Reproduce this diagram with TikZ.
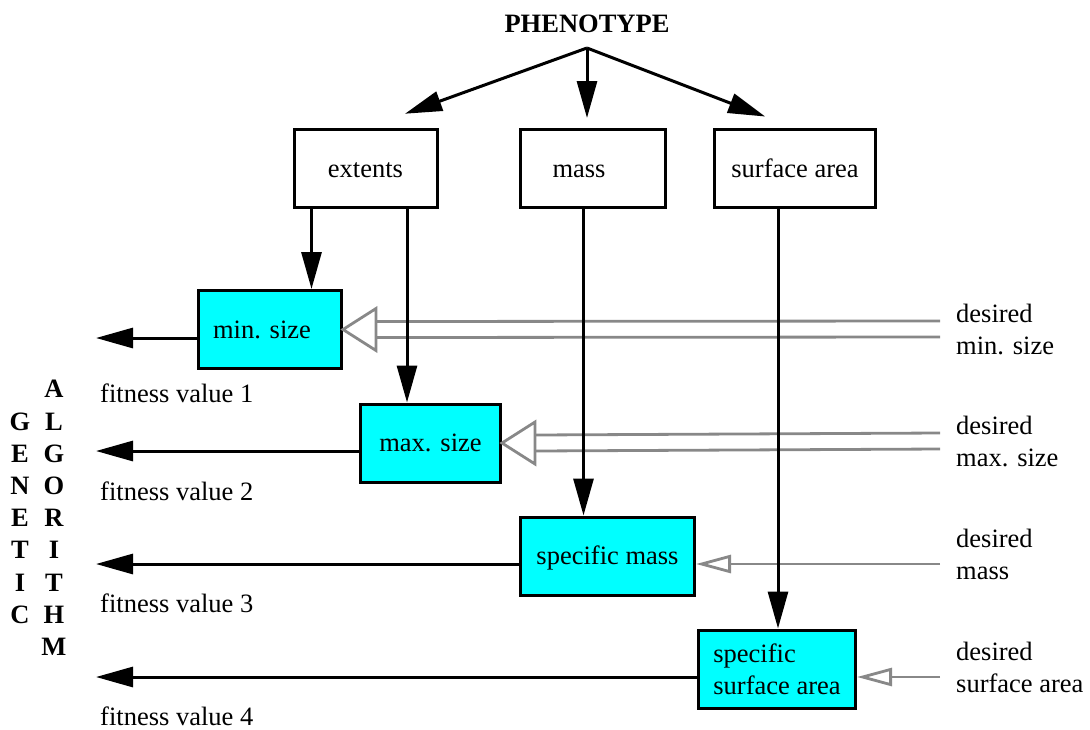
\documentclass[tikz,border=0pt]{standalone}
\usepackage{fontspec}
\setmainfont{Liberation Serif}
\usetikzlibrary{arrows.meta}
\definecolor{boxcyan}{RGB}{0,255,255}
\definecolor{feedgray}{RGB}{136,136,136}

\begin{document}
\begin{tikzpicture}[x=1pt,y=-1pt,
  every node/.style={font=\fontsize{26.5}{32}\selectfont, inner sep=0pt},
  heading/.style={font=\fontsize{26.5}{32}\selectfont\bfseries},
  vtext/.style={font=\fontsize{26.5}{32.2}\selectfont\bfseries, align=center},
  plainbox/.style={draw=black, line width=3pt, fill=white, minimum height=78pt,
                   text height=17pt, text depth=0pt},
  valbox/.style={plainbox, fill=boxcyan},
  sidetext/.style={anchor=west, align=left},
  fittext/.style={anchor=base west},
  flow/.style={line width=3pt, -{Triangle[length=37pt,width=20pt]}},
  feed/.style={draw=feedgray, line width=2.8pt},
  feedtip/.style={feed, -{Triangle[open,length=35pt,width=18pt]}}
]
\useasboundingbox (0,0) rectangle (1090,729);

% measured quantities
\node[heading, anchor=base] (phen) at (587,32) {PHENOTYPE};
\coordinate (split) at ([yshift=-16pt]phen.base);

\node[plainbox, minimum width=143pt] (extents) at (365.5,168.5) {extents};
\node[plainbox, minimum width=145pt] (mass) at (593,168.5) {mass\hspace*{28pt}};
\node[plainbox, minimum width=161pt] (surf) at (795,168.5) {surface area};

% quantities compared against their targets
\node[valbox, minimum width=143pt] (minsize) at (270,329.5) {min. size\hspace*{16pt}};
\node[valbox, minimum width=140pt] (maxsize) at (430.5,443) {max. size};
\node[valbox, minimum width=174pt] (smass) at (607.5,556) {specific mass};
\node[draw=black, line width=3pt, fill=boxcyan, minimum height=78pt,
      minimum width=157pt, align=left] (ssurf) at (777,669) {specific\\surface area};

% target values
\node[sidetext] (dmin)  at (956,329) {desired\\min. size};
\node[sidetext] (dmax)  at (956,441) {desired\\max. size};
\node[sidetext] (dmass) at (956,554) {desired\\mass};
\node[sidetext] (dsurf) at (956,667) {desired\\surface area};

% fitness outputs
\node[fittext] (fit1) at (100,402) {fitness value 1};
\node[fittext] (fit2) at (100,500) {fitness value 2};
\node[fittext] (fit3) at (100,612) {fitness value 3};
\node[fittext] (fit4) at (100,725) {fitness value 4};

\coordinate (out1) at (96,338);
\coordinate (out2) at (96,451);
\coordinate (out3) at (96,564);
\coordinate (out4) at (96,677);

% vertical caption
\node[vtext] (genetic) at (20,518) {G\\E\\N\\E\\T\\I\\C};
\node[vtext] (algorithm) at (54,518) {A\\L\\G\\O\\R\\I\\T\\H\\M};

% target feeds: double lines with wide open heads
\foreach \tgt/\src in {minsize/dmin, maxsize/dmax}{
  \draw[feed] ([shift={(-16pt,8pt)}]\src.west) -- ([shift={(33pt,8pt)}]\tgt.east);
  \draw[feed] ([shift={(-16pt,-8pt)}]\src.west) -- ([shift={(33pt,-8pt)}]\tgt.east);
  \draw[feed, fill=white, line join=miter] (\tgt.east)
    -- ([shift={(33pt,21pt)}]\tgt.east)
    -- ([shift={(33pt,-21pt)}]\tgt.east) -- cycle;
}
% target feeds: single lines
\draw[feedtip] ([xshift=-16pt]dmass.west |- out3) -- (smass.east |- out3);
\draw[feedtip] ([xshift=-16pt]dsurf.west |- out4) -- (ssurf.east |- out4);

% phenotype to measured quantities
\draw[flow, shorten >=42pt] (split) -- (extents.north);
\draw[flow, shorten >=10pt] (split) -- (split |- mass.north);
\draw[flow, shorten >=32pt] (split) -- (surf.north);

% measured quantities to compared quantities
\draw[flow] ([xshift=-54pt]extents.south) -- ([xshift=-54pt]extents.south |- minsize.north);
\draw[flow] ([xshift=41.5pt]extents.south) -- ([xshift=41.5pt]extents.south |- maxsize.north);
\draw[flow] ([xshift=-9.5pt]mass.south) -- ([xshift=-9.5pt]mass.south |- smass.north);
\draw[flow] ([xshift=-17pt]surf.south) -- ([xshift=-17pt]surf.south |- ssurf.north);

% fitness values out to the genetic algorithm
\draw[flow] (minsize.west |- out1) -- (out1);
\draw[flow] (maxsize.west |- out2) -- (out2);
\draw[flow] (smass.west |- out3) -- (out3);
\draw[flow] (ssurf.west |- out4) -- (out4);
\end{tikzpicture}
\end{document}
